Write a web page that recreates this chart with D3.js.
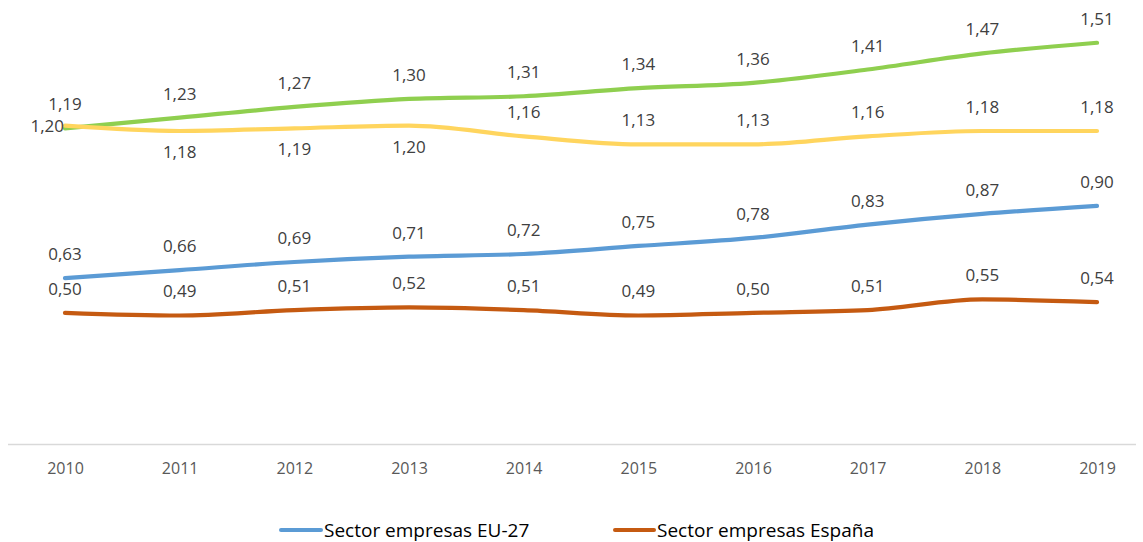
<!DOCTYPE html>
<html>
<head>
<meta charset="utf-8">
<script src="https://cdn.jsdelivr.net/npm/d3@7/dist/d3.min.js"></script>
<style>
  html, body { margin: 0; padding: 0; background: #fff; }
  svg { display: block; }
</style>
</head>
<body>
<svg id="chart" width="1143" height="542"></svg>
<script>
// Years on the horizontal axis
const years = ["2010", "2011", "2012", "2013", "2014", "2015", "2016", "2017", "2018", "2019"];

// Series values (R&D intensity, % of GDP)
const totalEU27      = [1.19, 1.23, 1.27, 1.30, 1.31, 1.34, 1.36, 1.41, 1.47, 1.51];
const totalEspana    = [1.20, 1.18, 1.19, 1.20, 1.16, 1.13, 1.13, 1.16, 1.18, 1.18];
const empresasEU27   = [0.63, 0.66, 0.69, 0.71, 0.72, 0.75, 0.78, 0.83, 0.87, 0.90];
const empresasEspana = [0.50, 0.49, 0.51, 0.52, 0.51, 0.49, 0.50, 0.51, 0.55, 0.54];

// Label placement per series: "above", "below" or "left"
const totalEspanaLabelPos = ["left", "below", "below", "below", "above", "above", "above", "above", "above", "above"];

const legendNames = ["Sector empresas EU-27", "Sector empresas España"];

const svg = d3.select("#chart");

const x = d3.scalePoint().domain(years).range([65, 1097]);
const y = d3.scaleLinear().domain([0, 1.6]).range([446.5, 18.7]);

const fmt = v => d3.format(".2f")(v).replace(".", ",");
const FONT = "'Open Sans', 'Noto Sans', sans-serif";

// Horizontal baseline
svg.append("line")
  .attr("x1", 8).attr("x2", 1136)
  .attr("y1", 444.5).attr("y2", 444.5)
  .attr("stroke", "#d9d9d9").attr("stroke-width", 1.3);

// Category axis labels
const xAxis = d3.axisBottom(x).tickSize(0).tickPadding(0);
const gx = svg.append("g").attr("transform", "translate(0,463)").call(xAxis);
gx.select(".domain").remove();
gx.selectAll("text")
  .attr("font-family", FONT)
  .attr("font-size", 16)
  .attr("fill", "#595959");

const series = [
  { values: totalEU27,      color: "#8fcf4f", pos: years.map(() => "above") },
  { values: totalEspana,    color: "#ffd55e", pos: totalEspanaLabelPos },
  { values: empresasEU27,   color: "#5b9bd5", pos: years.map(() => "above") },
  { values: empresasEspana, color: "#c55a11", pos: years.map(() => "above") }
];

const line = d3.line()
  .x((d, i) => x(years[i]))
  .y(d => y(d))
  .curve(d3.curveMonotoneX);

series.forEach(s => {
  svg.append("path")
    .datum(s.values)
    .attr("d", line)
    .attr("fill", "none")
    .attr("stroke", s.color)
    .attr("stroke-width", 4.2)
    .attr("stroke-linecap", "round")
    .attr("stroke-linejoin", "round");
});

// Data labels
series.forEach(s => {
  svg.append("g").selectAll("text")
    .data(s.values)
    .join("text")
    .attr("x", (d, i) => s.pos[i] === "left" ? x(years[i]) - 1 : x(years[i]))
    .attr("y", (d, i) => {
      const p = s.pos[i];
      if (p === "below") return y(d) + 27;
      if (p === "left") return y(d) + 6;
      return y(d) - 18;
    })
    .attr("text-anchor", (d, i) => s.pos[i] === "left" ? "end" : "middle")
    .attr("font-family", FONT)
    .attr("font-size", 17)
    .attr("fill", "#404040")
    .text(d => fmt(d));
});

// Legend
const legendItems = [
  { name: legendNames[0], color: "#5b9bd5", x1: 281, x2: 321 },
  { name: legendNames[1], color: "#c55a11", x1: 615, x2: 654 }
];
legendItems.forEach(it => {
  svg.append("line")
    .attr("x1", it.x1).attr("x2", it.x2)
    .attr("y1", 530).attr("y2", 530)
    .attr("stroke", it.color).attr("stroke-width", 4)
    .attr("stroke-linecap", "round");
  svg.append("text")
    .attr("x", it.x2 + 3).attr("y", 537)
    .attr("font-family", FONT)
    .attr("font-size", 19)
    .attr("fill", "#000")
    .text(it.name);
});
</script>
</body>
</html>
